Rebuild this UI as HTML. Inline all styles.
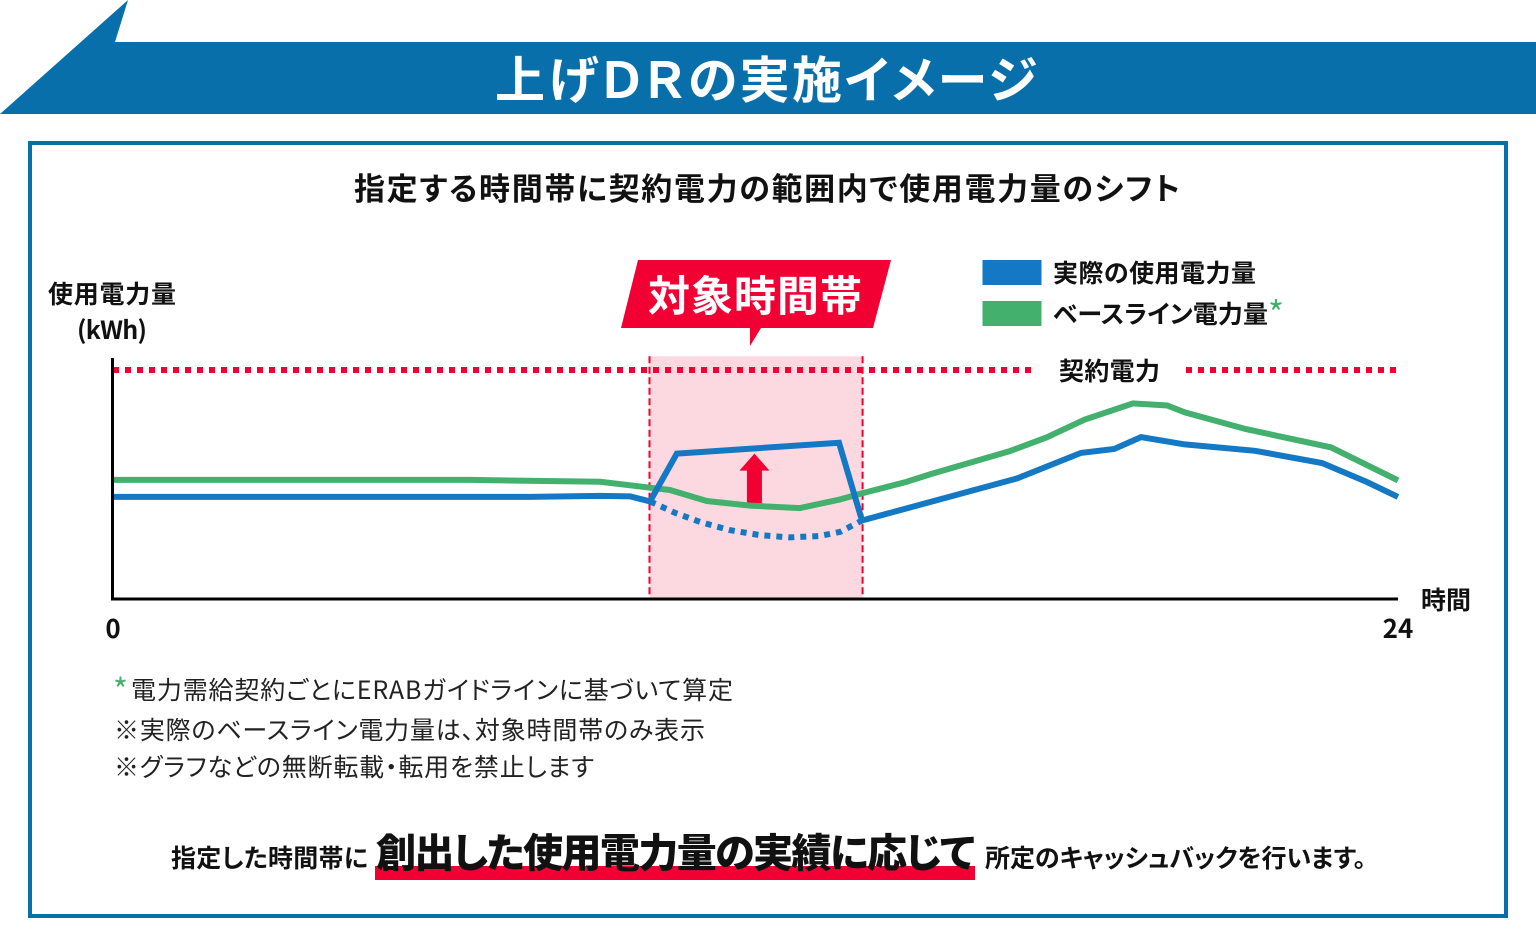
<!DOCTYPE html>
<html lang="ja">
<head>
<meta charset="utf-8">
<title>上げDRの実施イメージ</title>
<style>
html,body{margin:0;padding:0;background:#fff;}
svg{display:block;}
text{font-family:"Liberation Sans","Noto Sans CJK JP",sans-serif;font-feature-settings:"palt";}
.b{font-weight:700;fill:#111;}
.cjk{font-family:"Noto Sans CJK JP",sans-serif;}
.r{font-weight:400;fill:#222;}
</style>
</head>
<body>
<svg id="root" width="1536" height="945" viewBox="0 0 1536 945" xmlns="http://www.w3.org/2000/svg">
  <polygon points="0,114 128,0 115,42 1536,42 1536,114" fill="#086fab"/>
  <text x="495" y="98" class="cjk" font-size="50" font-weight="700" fill="#fff" textLength="542" lengthAdjust="spacing">上げＤＲの実施イメージ</text>
  <rect x="30" y="143" width="1476" height="773" fill="#fff" stroke="#086fab" stroke-width="4"/>
  <text x="354" y="200" class="b cjk" font-size="31" textLength="826" lengthAdjust="spacing">指定する時間帯に契約電力の範囲内で使用電力量のシフト</text>

  <text x="48" y="303" class="b cjk" font-size="25" textLength="128" lengthAdjust="spacing">使用電力量</text>
  <text x="77" y="339" class="b cjk" font-size="25" textLength="70" lengthAdjust="spacing">(kWh)</text>

  <polygon points="638,260 891,260 873,328 761,328 750,346 750,328 621,328" fill="#f20034"/>
  <text x="648" y="311" class="cjk" font-size="42" font-weight="700" fill="#fff" textLength="214" lengthAdjust="spacing">対象時間帯</text>

  <g id="chart"></g>

  <rect x="982.5" y="260" width="59" height="25" fill="#1478c4"/>
  <text x="1053" y="282" class="b cjk" font-size="25" textLength="203" lengthAdjust="spacing">実際の使用電力量</text>
  <rect x="982.5" y="301" width="59" height="25" fill="#43b06e"/>
  <text x="1053" y="323" class="b cjk" font-size="25" textLength="215" lengthAdjust="spacing">ベースライン電力量</text>
  <text x="1268" y="326" class="cjk" font-size="34" fill="#43b06e">*</text>

  <text x="1059" y="380" class="b cjk" font-size="25" textLength="101" lengthAdjust="spacing">契約電力</text>
  <text x="1421" y="609" class="b cjk" font-size="25" textLength="50" lengthAdjust="spacing">時間</text>

  <text x="113" y="702" class="cjk" font-size="32" fill="#43b06e">*</text>
  <text x="131" y="699" class="r cjk" font-size="25" textLength="602" lengthAdjust="spacing">電力需給契約ごとにERABガイドラインに基づいて算定</text>
  <text x="114" y="739" class="r cjk" font-size="25" textLength="591" lengthAdjust="spacing">※実際のベースライン電力量は、対象時間帯のみ表示</text>
  <text x="114" y="776" class="r cjk" font-size="25" textLength="480" lengthAdjust="spacing">※グラフなどの無断転載・転用を禁止します</text>

  <rect x="375" y="866" width="600" height="14" fill="#f20034"/>
  <text x="171" y="867" class="b cjk" font-size="25" textLength="197" lengthAdjust="spacing">指定した時間帯に</text>
  <text x="376" y="867" class="cjk" font-size="40" font-weight="900" fill="#111" textLength="599" lengthAdjust="spacing">創出した使用電力量の実績に応じて</text>
  <text x="985" y="867" class="b cjk" font-size="25" textLength="381" lengthAdjust="spacing">所定のキャッシュバックを行います。</text>
</svg>
<script>
// Data: hours on the x axis, share of contract power (percent) on the y axis.
var xTickLabels = [0, 24];
var contractValue = [100];
var targetWindow = [10.02, 14.0];
var baselineHours = [0, 6.67, 9.10, 10.03, 10.40, 11.09, 11.90, 12.83, 13.58, 13.95, 14.81, 15.28, 16.75, 17.43, 18.15, 19.05, 19.69, 20.02, 21.16, 22.75, 24];
var baselineValues = [52.0, 52.0, 51.2, 48.6, 47.6, 42.8, 40.8, 39.7, 43.5, 45.9, 51.1, 54.6, 64.6, 70.5, 78.4, 85.4, 84.5, 81.5, 74.2, 66.2, 51.8];
var actualHours = [0, 7.79, 9.10, 9.66, 10.03, 10.53, 13.56, 13.99, 16.88, 18.08, 18.70, 19.20, 20.02, 21.33, 22.58, 23.42, 24];
var actualValues = [44.6, 44.6, 45.0, 44.8, 42.6, 63.5, 68.2, 34.3, 52.6, 63.8, 65.5, 70.7, 67.5, 64.7, 59.4, 51.1, 44.6];
var unshiftedHours = [10.03, 10.50, 10.97, 11.52, 12.08, 12.64, 13.20, 13.58, 13.99];
var unshiftedValues = [42.6, 37.6, 33.6, 30.1, 27.9, 26.9, 27.5, 29.3, 34.3];
var arrowHour = [11.98];
var arrowRange = [41, 63.5];

var chart = document.getElementById('chart');
var NS = 'http://www.w3.org/2000/svg';
function xScale(h) { return 113 + h * (1398 - 113) / 24; }
function yScale(v) { return 599 - v * 2.29; }
function make(tag, attrs) {
  var el = document.createElementNS(NS, tag);
  for (var k in attrs) el.setAttribute(k, attrs[k]);
  chart.appendChild(el);
  return el;
}
function pathOf(hours, values) {
  return hours.map(function (h, i) {
    return (i ? 'L' : 'M') + xScale(h).toFixed(1) + ' ' + yScale(values[i]).toFixed(1);
  }).join(' ');
}

var bottom = yScale(0);
var zoneTop = yScale(106);
var zone = make('rect', { x: xScale(targetWindow[0]), y: zoneTop, width: xScale(targetWindow[1]) - xScale(targetWindow[0]), height: bottom - zoneTop, fill: '#fcd9e0' });



var zoneLeft = make('line', { x1: xScale(targetWindow[0]), x2: xScale(targetWindow[0]), y1: zoneTop, y2: bottom, stroke: '#f20034', 'stroke-width': 2, 'stroke-dasharray': '7 3.5' });


var zoneRight = make('line', { x1: xScale(targetWindow[1]), x2: xScale(targetWindow[1]), y1: zoneTop, y2: bottom, stroke: '#f20034', 'stroke-width': 2, 'stroke-dasharray': '7 3.5' });



var contractA = make('line', { x1: xScale(0), x2: 1032, y1: yScale(contractValue[0]), y2: yScale(contractValue[0]), stroke: '#f20034', 'stroke-width': 6, 'stroke-dasharray': '6 6' });


var contractB = make('line', { x1: 1186, x2: xScale(24), y1: yScale(contractValue[0]), y2: yScale(contractValue[0]), stroke: '#f20034', 'stroke-width': 6, 'stroke-dasharray': '6 6' });



var ax = xScale(arrowHour[0]), aBase = yScale(arrowRange[0]), aTip = yScale(arrowRange[1]);
var arrow = make('polygon', { fill: '#f20034', points: [
  [ax, aTip], [ax + 15, aTip + 17], [ax + 7.5, aTip + 17], [ax + 7.5, aBase], [ax - 7.5, aBase], [ax - 7.5, aTip + 17], [ax - 15, aTip + 17]
].map(function (p) { return p.join(','); }).join(' ') });



var baseline = make('path', { d: pathOf(baselineHours, baselineValues), fill: 'none', stroke: '#43b06e', 'stroke-width': 6, 'stroke-linejoin': 'miter' });



var unshifted = make('path', { d: pathOf(unshiftedHours, unshiftedValues), fill: 'none', stroke: '#1478c4', 'stroke-width': 6, 'stroke-dasharray': '6 6' });



var actual = make('path', { d: pathOf(actualHours, actualValues), fill: 'none', stroke: '#1478c4', 'stroke-width': 6, 'stroke-linejoin': 'miter' });



var yAxis = make('line', { x1: xScale(0) - 0.5, x2: xScale(0) - 0.5, y1: 358, y2: bottom + 1.5, stroke: '#000', 'stroke-width': 3 });


var xAxis = make('line', { x1: xScale(0) - 2, x2: xScale(24), y1: bottom, y2: bottom, stroke: '#000', 'stroke-width': 3 });



xTickLabels.forEach(function (t) {
  var el = make('text', { x: xScale(t), y: 638, 'text-anchor': 'middle', 'font-size': 26, 'font-weight': 700, fill: '#111', class: 'cjk' });
  el.textContent = String(t);
  
  
});
</script>
</body>
</html>
